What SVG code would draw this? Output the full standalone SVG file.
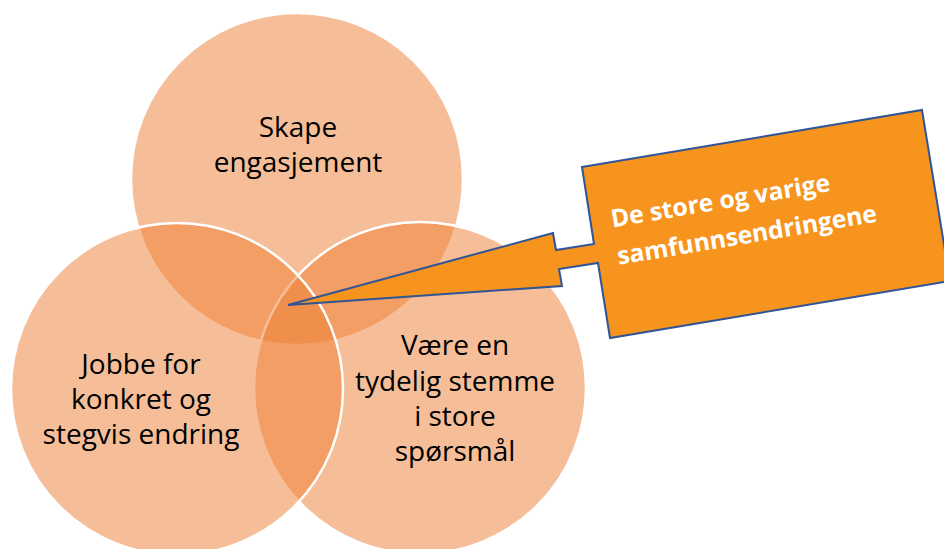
<svg xmlns="http://www.w3.org/2000/svg" width="944" height="549" viewBox="0 0 944 549">
  <style>
    .circle { fill: #ED7D31; fill-opacity: 0.5; stroke: #FFFFFF; stroke-width: 2.5; }
    .label { font-family: "Open Sans", "Liberation Sans", sans-serif; font-size: 28px; fill: #000000; text-anchor: middle; }
    .callout { fill: #F7941E; stroke: #2F5597; stroke-width: 2; stroke-linejoin: miter; }
    .callout-text { font-family: "Open Sans", "Liberation Sans", sans-serif; font-size: 24.7px; font-weight: bold; fill: #FFFFFF; }
  </style>
  <rect width="944" height="549" fill="#FFFFFF"/>
  <g id="node-skape">
    <circle class="circle" cx="297" cy="179" r="166"/>
  </g>
  <g id="node-vaere">
    <circle class="circle" cx="420" cy="388" r="166"/>
  </g>
  <g id="node-jobbe">
    <circle class="circle" cx="177" cy="389" r="166"/>
  </g>
  <g id="labels">
    <text class="label" x="298" y="137">Skape</text>
    <text class="label" x="298" y="172">engasjement</text>
    <text class="label" x="141" y="374">Jobbe for</text>
    <text class="label" x="141" y="409">konkret og</text>
    <text class="label" x="141" y="444">stegvis endring</text>
    <text class="label" x="455" y="355">Være en</text>
    <text class="label" x="455" y="391">tydelig stemme</text>
    <text class="label" x="455" y="426">i store</text>
    <text class="label" x="455" y="461">spørsmål</text>
  </g>
  <g id="node-callout">
    <polygon class="callout" points="582,167 922,110 950,281 610,338 598,263 559,269 562,286 288,305 553,233 556,250 594,244"/>
    <g transform="translate(766,224) rotate(-9.5)">
      <text class="callout-text" x="-152" y="-22">De store og varige</text>
      <text class="callout-text" x="-152" y="16">samfunnsendringene</text>
    </g>
  </g>
</svg>
